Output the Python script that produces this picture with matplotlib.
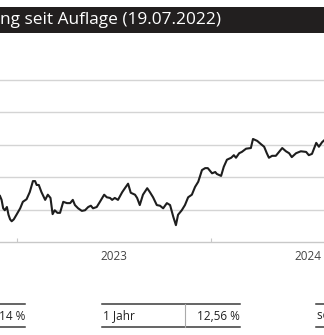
import pandas as pd
import matplotlib
matplotlib.use('Agg')
import matplotlib.pyplot as plt
from matplotlib.patches import Rectangle

plt.rcParams['font.family'] = ['Open Sans', 'DejaVu Sans']

# Fondsentwicklung (Index), Ausschnitt Ende 2022 bis Mitte 2024
dates = [
    '2022-11-30', '2022-12-03', '2022-12-06', '2022-12-09', '2022-12-13', '2022-12-16',
    '2022-12-19', '2022-12-22', '2022-12-26', '2022-12-31', '2023-01-07', '2023-01-12',
    '2023-01-19', '2023-01-25', '2023-01-31', '2023-02-04', '2023-02-07', '2023-02-11',
    '2023-02-16', '2023-02-23', '2023-02-28', '2023-03-05', '2023-03-09', '2023-03-13',
    '2023-03-18', '2023-03-23', '2023-03-29', '2023-04-05', '2023-04-11', '2023-04-16',
    '2023-04-20', '2023-04-26', '2023-05-03', '2023-05-09', '2023-05-15', '2023-05-20',
    '2023-05-24', '2023-05-31', '2023-06-06', '2023-06-14', '2023-06-19', '2023-06-25',
    '2023-06-29', '2023-07-04', '2023-07-10', '2023-07-18', '2023-07-23', '2023-07-29',
    '2023-08-03', '2023-08-11', '2023-08-15', '2023-08-20', '2023-08-26', '2023-09-03',
    '2023-09-08', '2023-09-14', '2023-09-21', '2023-09-27', '2023-10-03', '2023-10-10',
    '2023-10-16', '2023-10-22', '2023-10-27', '2023-10-31', '2023-11-07', '2023-11-13',
    '2023-11-19', '2023-11-26', '2023-12-02', '2023-12-08', '2023-12-15', '2023-12-21',
    '2023-12-26', '2024-01-03', '2024-01-09', '2024-01-12', '2024-01-20', '2024-01-25',
    '2024-01-31', '2024-02-08', '2024-02-13', '2024-02-17', '2024-02-23', '2024-02-28',
    '2024-03-07', '2024-03-16', '2024-03-20', '2024-03-28', '2024-04-04', '2024-04-10',
    '2024-04-15', '2024-04-19', '2024-04-25', '2024-05-02', '2024-05-08', '2024-05-14',
    '2024-05-21', '2024-05-27', '2024-06-01', '2024-06-09', '2024-06-18', '2024-06-28',
    '2024-07-03', '2024-07-09', '2024-07-17', '2024-07-22', '2024-07-28', '2024-08-01',
]
values = [
    92.1, 91.5, 90.2, 89.9, 90.4, 89.2,
    88.5, 88.2, 88.5, 89.2, 90.2, 91.2,
    91.6, 92.7, 94.4, 94.4, 93.8, 93.8,
    92.7, 91.5, 92.3, 91.8, 89.3, 89.9,
    89.5, 89.5, 91.2, 91.0, 91.0, 91.5,
    90.7, 90.2, 89.8, 89.9, 90.4, 90.6,
    90.2, 90.4, 91.2, 92.3, 91.9, 91.8,
    91.5, 91.8, 91.5, 92.7, 93.3, 94.0,
    92.6, 92.3, 91.8, 90.7, 92.3, 93.3,
    92.7, 91.9, 90.7, 90.6, 90.2, 91.0,
    90.7, 88.9, 87.6, 89.2, 89.9, 90.7,
    91.9, 92.3, 93.5, 94.3, 96.1, 96.4,
    96.4, 95.6, 95.8, 95.5, 95.2, 96.6,
    97.7, 98.0, 98.4, 98.0, 98.7, 98.9,
    99.4, 99.5, 100.9, 100.6, 100.1, 99.7,
    98.7, 98.0, 98.3, 98.3, 98.9, 99.5,
    99.0, 98.7, 98.1, 98.7, 99.0, 98.9,
    98.4, 98.6, 100.3, 99.7, 100.4, 100.7,
]
y_grid = [90, 95, 100, 105, 110]
year_starts = ['2023-01-01', '2024-01-01']
year_labels = ['2023', '2024']

title = 'ng seit Auflage (19.07.2022)'
perf_rows = [('', '14 %'), ('1 Jahr', '12,56 %'), ('seit Auflage', '')]

W, H = 324, 335
fig = plt.figure(figsize=(W / 100, H / 100), dpi=100)

# Pixel-Overlay fuer Titelbalken und Tabelle
bg = fig.add_axes([0, 0, 1, 1])
bg.set_xlim(0, W)
bg.set_ylim(H, 0)
bg.axis('off')

bg.add_patch(Rectangle((0, 7), W, 26, color='#221f1f', lw=0))
bg.text(0, 20.5, title, color='white', fontsize=12.4, ha='left', va='center')

# Chart
ax = fig.add_axes([0, (H - 242) / H, 1, (242 - 48) / H])
x = pd.to_datetime(dates)
ax.plot(x, values, color='#1e1e1e', lw=1.5, solid_joinstyle='round')

t0 = pd.Timestamp(year_starts[0])
px_day = 194 / 365
ax.set_xlim(t0 - pd.Timedelta(days=17 / px_day), t0 + pd.Timedelta(days=(W - 17) / px_day))
ax.set_ylim(85, 85 + (242 - 48) / 32.4 * 5)

for v in y_grid:
    ax.axhline(v, color='#d4d4d4', lw=1.0, zorder=0)

for s in ['top', 'right', 'left']:
    ax.spines[s].set_visible(False)
ax.spines['bottom'].set_color('#c8c8c8')
ax.spines['bottom'].set_linewidth(1.0)
ax.set_yticks([])

ax.set_xticks(pd.to_datetime(year_starts))
ax.set_xticklabels([])
ax.tick_params(axis='x', which='major', direction='in', length=3, color='#c8c8c8')
mids = pd.to_datetime(year_starts) + pd.Timedelta(days=182)
ax.set_xticks(mids, minor=True)
ax.set_xticklabels(year_labels, minor=True)
ax.tick_params(axis='x', which='minor', length=0, pad=6, labelsize=8.5, labelcolor='#444444')

# Wertentwicklungstabelle
line_c = '#3a3a3a'
cells = [(-60, 25), (102, 240), (316, 420)]
for (x0, x1), (lab, val) in zip(cells, perf_rows):
    bg.plot([x0, x1], [304, 304], color=line_c, lw=1.1)
    bg.plot([x0, x1], [327, 327], color=line_c, lw=1.1)
    if lab:
        bg.text(x0 + 1, 316, lab, fontsize=8.5, color='#222222', ha='left', va='center')
    if val:
        bg.text(x1, 316, val, fontsize=8.5, color='#222222', ha='right', va='center')
bg.plot([185, 185], [304, 327], color='#aaaaaa', lw=0.8)

fig.savefig('out.png', dpi=100)
